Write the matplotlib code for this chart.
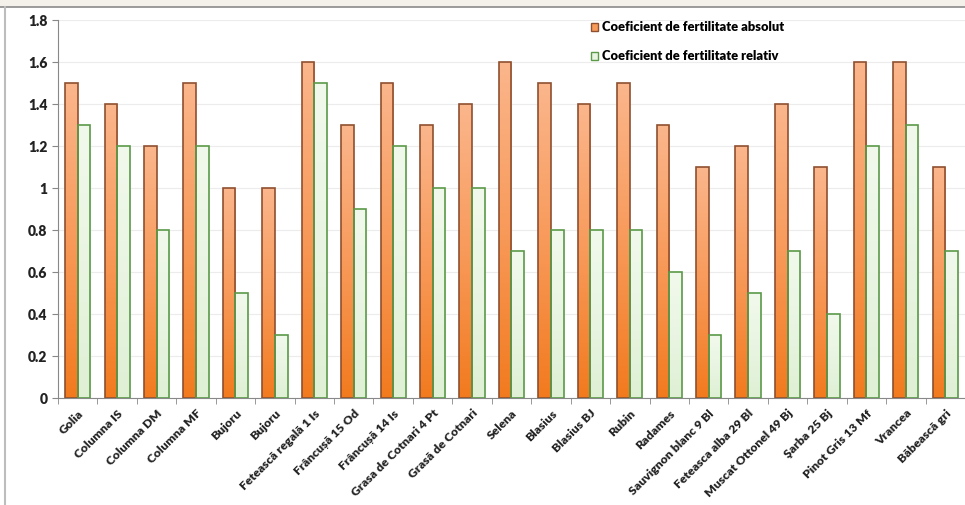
import matplotlib

matplotlib.use("Agg")
import matplotlib.pyplot as plt
import numpy as np
from matplotlib.colors import LinearSegmentedColormap
from matplotlib.lines import Line2D
from matplotlib.patches import Rectangle

# Soiuri (categorii) si valorile
soiuri = [
    "Golia", "Columna IS", "Columna DM", "Columna MF", "Bujoru", "Bujoru",
    "Fetească regală 1 Is", "Frâncușă 15 Od", "Frâncușă 14 Is",
    "Grasa de Cotnari 4 Pt", "Grasă de Cotnari", "Selena", "Blasius",
    "Blasius BJ", "Rubin", "Radames", "Sauvignon blanc 9 Bl",
    "Feteasca alba 29 Bl", "Muscat Ottonel 49 Bj", "Şarba 25 Bj",
    "Pinot Gris 13 Mf", "Vrancea", "Băbească gri",
]
coef_absolut = [1.5, 1.4, 1.2, 1.5, 1.0, 1.0, 1.6, 1.3, 1.5, 1.3, 1.4, 1.6,
                1.5, 1.4, 1.5, 1.3, 1.1, 1.2, 1.4, 1.1, 1.6, 1.6, 1.1]
coef_relativ = [1.3, 1.2, 0.8, 1.2, 0.5, 0.3, 1.5, 0.9, 1.2, 1.0, 1.0, 0.7,
                0.8, 0.8, 0.8, 0.6, 0.3, 0.5, 0.7, 0.4, 1.2, 1.3, 0.7]
serii = ["Coeficient de fertilitate absolut", "Coeficient de fertilitate relativ"]

FONT = ["Lato", "DejaVu Sans"]

fig = plt.figure(figsize=(9.65, 5.05), dpi=100)
ax = fig.add_axes([58 / 965, 107 / 505, 907 / 965, 378 / 505])

x = np.arange(len(soiuri))
w = 0.32

orange_cmap = LinearSegmentedColormap.from_list("or", ["#f27a1e", "#f89a5a", "#fbb68c"])
green_cmap = LinearSegmentedColormap.from_list("gr", ["#dff0d5", "#e9f5e2", "#f1f9ec"])

bars1 = ax.bar(x - w / 2, coef_absolut, w, facecolor="none", edgecolor="#8e5030",
               linewidth=1.2, label=serii[0], zorder=3)
bars2 = ax.bar(x + w / 2, coef_relativ, w, facecolor="none", edgecolor="#5a9a48",
               linewidth=1.2, label=serii[1], zorder=3)

# gradient fill clipped to each bar
grad = np.linspace(0, 1, 256).reshape(-1, 1)
for bars, cmap in [(bars1, orange_cmap), (bars2, green_cmap)]:
    for b in bars:
        x0, h = b.get_x(), b.get_height()
        im = ax.imshow(grad, cmap=cmap, aspect="auto", origin="lower",
                       extent=[x0, x0 + b.get_width(), 0, h], zorder=2)
        im.set_clip_path(b)

ax.set_xlim(-0.5, len(soiuri) - 0.5)
ax.set_ylim(0, 1.8)
ax.set_yticks(np.arange(0, 1.81, 0.2))
ax.set_yticklabels(["0", "0.2", "0.4", "0.6", "0.8", "1", "1.2", "1.4", "1.6", "1.8"],
                   fontsize=10, fontweight="heavy", family=FONT, color="#222222")
ax.grid(axis="y", color="#ececec", linewidth=0.8, zorder=0)

ax.set_xticks(x)
ax.set_xticklabels(soiuri, rotation=45, ha="right", rotation_mode="anchor",
                   fontsize=8.8, fontweight="heavy", family=FONT, color="#222222")
ax.set_xticks(np.arange(-0.5, len(soiuri), 1), minor=True)
ax.tick_params(axis="x", which="major", length=0, pad=7)
ax.tick_params(axis="x", which="minor", length=4, color="#888888")
ax.tick_params(axis="y", length=4, color="#888888")

for s in ["top", "right"]:
    ax.spines[s].set_visible(False)
for s in ["left", "bottom"]:
    ax.spines[s].set_color("#888888")

handles = [
    Rectangle((0, 0), 1, 1, facecolor="#f89a5a", edgecolor="#8e5030"),
    Rectangle((0, 0), 1, 1, facecolor="#e9f5e2", edgecolor="#5a9a48"),
]
ax.legend(handles, serii, loc="upper left", bbox_to_anchor=(528 / 907, 1.01),
          borderaxespad=0, frameon=False, handlelength=0.55, handleheight=0.55,
          handletextpad=0.25, labelspacing=1.3,
          prop={"family": FONT, "weight": "heavy", "size": 9.3})

# screenshot frame
fig.add_artist(Rectangle((0, 1 - 7 / 505), 1, 7 / 505, transform=fig.transFigure,
                         facecolor="#f3f1ea", edgecolor="none"))
fig.add_artist(Line2D([0, 1], [1 - 7 / 505] * 2, transform=fig.transFigure,
                      color="#8a8a8a", linewidth=1.2))
fig.add_artist(Line2D([5 / 965] * 2, [0, 1 - 7 / 505], transform=fig.transFigure,
                      color="#bdbdbd", linewidth=1.5))

fig.savefig("out.png", dpi=100)
